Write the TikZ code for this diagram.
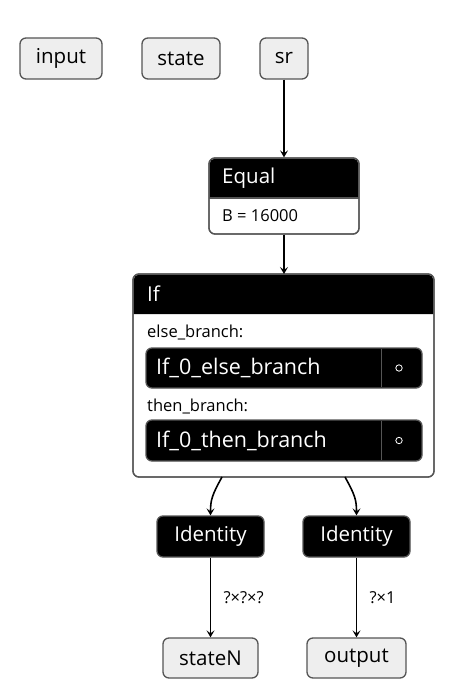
\documentclass[tikz,border=0pt]{standalone}
\usepackage{fontspec}
\setmainfont{Open Sans}
\usetikzlibrary{arrows.meta}

\definecolor{edgegray}{HTML}{555555}
\definecolor{iofill}{HTML}{EEEEEE}
\newcommand{\mainfs}{\fontsize{20.5}{24}\selectfont}
\newcommand{\smallfs}{\fontsize{16.5}{20}\selectfont}
\tikzset{
  x=1pt, y=-1pt,
  iobox/.style={draw=edgegray, fill=iofill, line width=1.3pt, rounded corners=6pt, minimum height=41pt, inner sep=0pt, font=\mainfs},
  opbox/.style={draw=edgegray, fill=white, line width=1.3pt, rounded corners=6pt, inner sep=0pt},
  blackbox/.style={draw=edgegray, fill=black, text=white, line width=1.3pt, rounded corners=6pt, minimum height=41pt, inner sep=0pt, font=\mainfs},
  lbl/.style={anchor=west, inner sep=0pt},
  flow/.style={line width=1.6pt, -{Stealth[length=7pt, width=8pt, inset=3pt]}},
}

\begin{document}
\begin{tikzpicture}
\useasboundingbox (0,0) rectangle (456,700);

% graph inputs
\node[iobox, minimum width=82pt] (input) at (61,58.5) {input};
\node[iobox, minimum width=78pt] (state) at (181,58.5) {state};
\node[iobox, minimum width=48pt] (sr) at (284,58.5) {sr};

% Equal node
\node[opbox, minimum width=150pt, minimum height=76pt] (equal) at (284,196) {};
\fill[black] (209.6,198) {[rounded corners=5.4pt] -- (209.6,158.6) -- (358.4,158.6)} -- (358.4,198) -- cycle;
\draw[edgegray, line width=1.3pt] (209,198) -- (359,198);
\draw[edgegray, line width=1.3pt, rounded corners=6pt] (209,158) rectangle (359,234);
\node[lbl, text=white, font=\mainfs] (eqname) at (222,178) {Equal};
\node[lbl, font=\smallfs] (eqattr) at (222,216) {B = 16000};

% If node
\node[opbox, minimum width=301pt, minimum height=203pt] (if) at (283.5,375.5) {};
\fill[black] (133.6,314) {[rounded corners=5.4pt] -- (133.6,274.6) -- (433.4,274.6)} -- (433.4,314) -- cycle;
\draw[edgegray, line width=1.3pt, rounded corners=6pt] (133,274) rectangle (434,477);
\node[lbl, text=white, font=\mainfs] (ifname) at (147,294) {If};
\node[lbl, font=\smallfs] (elselbl) at (147,332) {else\_branch:};
\node[blackbox, minimum width=276pt, minimum height=40pt] (elsebox) at (284,368) {};
\node[lbl, text=white, font=\fontsize{21.5}{25}\selectfont] (elsename) at (156,368) {If\_0\_else\_branch};
\draw[edgegray, line width=1pt] (381,348.6) -- (381,387.4);
\draw[white, line width=0.8pt] (399,368) circle (3.2pt);
\node[lbl, font=\smallfs] (thenlbl) at (147,406) {then\_branch:};
\node[blackbox, minimum width=276pt, minimum height=41pt] (thenbox) at (284,440.5) {};
\node[lbl, text=white, font=\fontsize{21.5}{25}\selectfont] (thenname) at (156,440.5) {If\_0\_then\_branch};
\draw[edgegray, line width=1pt] (381,420.6) -- (381,460.4);
\draw[white, line width=0.8pt] (399,440.5) circle (3.2pt);

% Identity nodes and outputs
\node[blackbox, minimum width=107pt] (id1) at (210.5,536.5) {Identity};
\node[blackbox, minimum width=107pt] (id2) at (356.5,536.5) {Identity};
\node[iobox, minimum width=95pt, minimum height=40pt] (staten) at (210.5,658) {stateN};
\node[iobox, minimum width=99pt, minimum height=40pt] (output) at (356.5,658) {output};

% connectors
\draw[flow] (sr) -- (equal);
\draw[flow] (equal) -- (284,274);
\coordinate (ifout1) at (222,477);
\coordinate (ifout2) at (345,477);
\draw[flow] (ifout1) .. controls (212,495) and (210.5,500) .. (id1.north);
\draw[flow] (ifout2) .. controls (355,495) and (356.5,500) .. (id2.north);
\draw[flow] (id1) -- node[right=9pt, font=\smallfs] {?×?×?} (staten);
\draw[flow] (id2) -- node[right=9pt, font=\smallfs] {?×1} (output);
\end{tikzpicture}
\end{document}
